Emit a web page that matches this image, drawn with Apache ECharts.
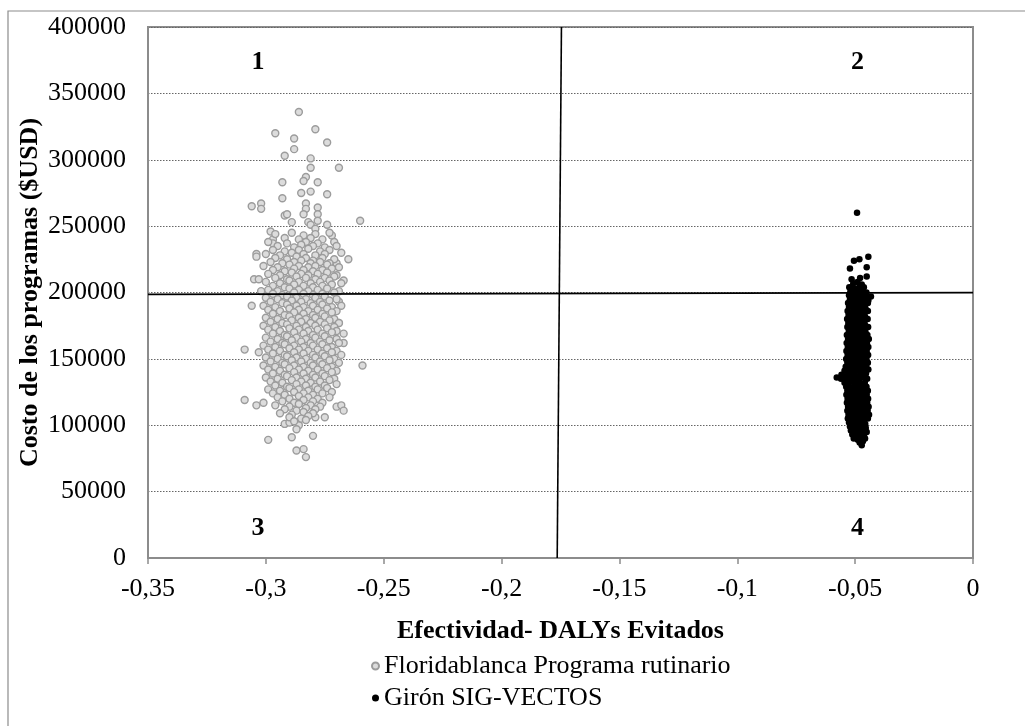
<!DOCTYPE html>
<html>
<head>
<meta charset="utf-8">
<style>
  html, body { margin: 0; padding: 0; background: #fff; }
  #chart { width: 1025px; height: 726px; }
</style>
<script src="https://cdn.jsdelivr.net/npm/echarts@6/dist/echarts.min.js"></script>
</head>
<body>
<div id="chart"></div>
<script>
    var fontFam = '"Liberation Serif", "Times New Roman", serif';
    var seriesNames = ['Floridablanca Programa rutinario', 'Girón SIG-VECTOS'];
    var xTicks = { min: -0.35, max: 0, interval: 0.05 };
    var yTicks = { min: 0, max: 400000, interval: 50000 };
    var quadrantNames = ['1', '2', '3', '4'];
    var quadrantPos = [[-0.3033, 373600], [-0.0490, 373600], [-0.3033, 22600], [-0.0490, 22600]];
    // lineas de cuadrantes (algo inclinadas en el original)
    var verticalCut = [[-0.1764, 0], [-0.1746, 400000]];
    var horizontalCut = [[-0.35, 198600], [0, 199900]];

    // [efectividad, costo en miles de USD]
    var floridablanca = [
        [-0.286,336],[-0.296,320],[-0.279,323],[-0.288,316],[-0.274,313],[-0.288,308],[-0.292,303],[-0.281,301],
        [-0.281,294],[-0.269,294],[-0.293,283],[-0.283,287],[-0.284,284],[-0.278,283],[-0.285,275],[-0.281,276],
        [-0.274,274],[-0.293,271],[-0.306,265],[-0.302,267],[-0.302,263],[-0.283,267],[-0.283,263],[-0.278,264],
        [-0.292,258],[-0.291,259],[-0.284,259],[-0.278,259],[-0.278,254],[-0.260,254],[-0.289,253],[-0.282,253],
        [-0.281,251],[-0.274,251],[-0.279,248],[-0.298,246],[-0.272,243],[-0.297,240],[-0.297,237],[-0.265,225],
        [-0.304,229],[-0.304,227],[-0.305,210],[-0.303,210],[-0.302,201],[-0.267,209],[-0.270,222],
        [-0.306,190],[-0.309,157],[-0.303,155],[-0.259,145],[-0.309,119],[-0.304,115],[-0.301,117],[-0.270,114],
        [-0.268,115],[-0.267,111],[-0.299,89],[-0.289,91],[-0.280,92],[-0.287,81],[-0.284,82],[-0.283,76],
        [-0.267,169],[-0.267,162],[-0.269,177],[-0.269,193],[-0.275,106],[-0.279,106],[-0.286,100],[-0.287,97],
        [-0.292,101],[-0.290,102],
        [-0.296,244],[-0.289,245],[-0.284,243],[-0.279,244],[-0.273,245],
        [-0.292,241],[-0.286,240],[-0.281,241],[-0.276,240],
        [-0.299,238],[-0.291,237],[-0.283,238],[-0.278,237],[-0.271,238],
        [-0.295,235],[-0.288,234],[-0.285,236],[-0.280,235],[-0.275,234],[-0.270,235],
        [-0.297,232],[-0.292,231],[-0.286,232],[-0.282,233],[-0.277,231],[-0.273,232],
        [-0.300,229],[-0.294,228],[-0.289,230],[-0.284,229],[-0.279,228],[-0.275,229],[-0.268,230],
        [-0.296,226],[-0.291,225],[-0.287,227],[-0.283,226],[-0.280,224],[-0.276,226],[-0.271,225],
        [-0.298,223],[-0.293,222],[-0.288,223],[-0.285,224],[-0.281,222],[-0.277,223],[-0.273,222],
        [-0.301,220],[-0.295,219],[-0.290,221],[-0.286,220],[-0.282,219],[-0.279,220],[-0.274,221],[-0.269,219],
        [-0.297,217],[-0.292,216],[-0.288,218],[-0.284,217],[-0.280,216],[-0.276,217],[-0.272,218],
        [-0.299,214],[-0.294,213],[-0.289,215],[-0.285,214],[-0.282,213],[-0.278,214],[-0.274,215],[-0.270,213],
        [-0.296,211],[-0.291,210],[-0.287,212],[-0.283,211],[-0.279,210],[-0.275,211],[-0.271,212],
        [-0.300,208],[-0.294,207],[-0.290,209],[-0.286,208],[-0.281,207],[-0.277,208],[-0.273,209],[-0.268,207],
        [-0.297,205],[-0.292,204],[-0.288,206],[-0.284,205],[-0.280,204],[-0.276,205],[-0.272,206],
        [-0.299,202],[-0.295,201],[-0.290,203],[-0.286,202],[-0.282,201],[-0.278,202],[-0.274,203],[-0.269,201],
        [-0.297,199],[-0.293,198],[-0.288,200],[-0.284,199],[-0.280,198],[-0.276,199],[-0.271,200],
        [-0.300,196],[-0.295,195],[-0.291,197],[-0.287,196],[-0.283,195],[-0.279,196],[-0.275,197],[-0.270,195],
        [-0.298,193],[-0.293,192],[-0.289,194],[-0.285,193],[-0.281,192],[-0.277,193],[-0.273,194],
        [-0.301,190],[-0.296,189],[-0.291,191],[-0.287,190],[-0.284,189],[-0.280,190],[-0.276,191],[-0.272,189],[-0.268,190],
        [-0.299,187],[-0.294,186],[-0.290,188],[-0.286,187],[-0.282,186],[-0.278,187],[-0.274,188],[-0.270,186],
        [-0.297,184],[-0.292,183],[-0.288,185],[-0.284,184],[-0.280,183],[-0.276,184],[-0.272,185],
        [-0.300,181],[-0.295,180],[-0.290,182],[-0.286,181],[-0.283,180],[-0.279,181],[-0.275,182],[-0.271,180],
        [-0.298,178],[-0.293,177],[-0.289,179],[-0.285,178],[-0.281,177],[-0.277,178],[-0.273,179],[-0.269,177],
        [-0.301,175],[-0.296,174],[-0.291,176],[-0.287,175],[-0.283,174],[-0.279,175],[-0.275,176],[-0.271,174],
        [-0.299,172],[-0.294,171],[-0.290,173],[-0.286,172],[-0.282,171],[-0.278,172],[-0.274,173],[-0.270,171],
        [-0.297,169],[-0.292,168],[-0.288,170],[-0.284,169],[-0.280,168],[-0.276,169],[-0.272,170],
        [-0.300,166],[-0.295,165],[-0.291,167],[-0.287,166],[-0.283,165],[-0.279,166],[-0.275,167],[-0.270,165],
        [-0.298,163],[-0.293,162],[-0.289,164],[-0.285,163],[-0.281,162],[-0.277,163],[-0.273,164],[-0.269,162],
        [-0.301,160],[-0.296,159],[-0.292,161],[-0.288,160],[-0.284,159],[-0.280,160],[-0.276,161],[-0.272,159],
        [-0.299,157],[-0.294,156],[-0.290,158],[-0.286,157],[-0.282,156],[-0.278,157],[-0.274,158],[-0.270,156],
        [-0.297,154],[-0.292,153],[-0.288,155],[-0.284,154],[-0.280,153],[-0.276,154],[-0.272,155],[-0.268,153],
        [-0.300,151],[-0.295,150],[-0.291,152],[-0.287,151],[-0.283,150],[-0.279,151],[-0.275,152],[-0.271,150],
        [-0.298,148],[-0.293,147],[-0.289,149],[-0.285,148],[-0.281,147],[-0.277,148],[-0.273,149],[-0.269,147],
        [-0.301,145],[-0.296,144],[-0.292,146],[-0.288,145],[-0.284,144],[-0.280,145],[-0.276,146],[-0.272,144],
        [-0.299,142],[-0.294,141],[-0.290,143],[-0.286,142],[-0.282,141],[-0.278,142],[-0.274,143],[-0.270,141],
        [-0.297,139],[-0.292,138],[-0.288,140],[-0.284,139],[-0.280,138],[-0.276,139],[-0.272,140],
        [-0.300,136],[-0.295,135],[-0.291,137],[-0.287,136],[-0.283,135],[-0.279,136],[-0.275,137],[-0.271,135],
        [-0.298,133],[-0.293,132],[-0.289,134],[-0.285,133],[-0.281,132],[-0.277,133],[-0.273,134],
        [-0.296,130],[-0.291,129],[-0.287,131],[-0.283,130],[-0.279,129],[-0.275,130],[-0.270,131],
        [-0.299,127],[-0.294,126],[-0.290,128],[-0.286,127],[-0.282,126],[-0.278,127],[-0.274,128],
        [-0.297,124],[-0.292,123],[-0.288,125],[-0.284,124],[-0.280,123],[-0.276,124],[-0.272,125],
        [-0.295,121],[-0.290,120],[-0.286,122],[-0.282,121],[-0.278,120],[-0.273,121],
        [-0.293,118],[-0.288,117],[-0.284,119],[-0.280,118],[-0.276,117],
        [-0.296,115],[-0.290,114],[-0.286,116],[-0.281,115],[-0.277,114],
        [-0.292,112],[-0.287,111],[-0.283,113],[-0.279,112],
        [-0.294,109],[-0.289,108],[-0.284,110],[-0.280,109],
        [-0.290,106],[-0.285,105],[-0.282,107],
        [-0.288,103],[-0.283,104]
    ];

    // [efectividad, costo en miles de USD]
    var giron = [
        [-0.0492,260],[-0.0444,227],[-0.0505,224],[-0.0482,225],[-0.0522,218],[-0.0451,219],[-0.0451,212],
        [-0.0479,211],[-0.0515,210],[-0.0525,204],[-0.0433,197],[-0.0444,194],
        [-0.0508,207],[-0.0490,208],[-0.0472,206],
        [-0.0515,204],[-0.0498,203],[-0.0480,205],[-0.0463,204],
        [-0.0520,201],[-0.0503,200],[-0.0486,202],[-0.0468,201],[-0.0452,200],
        [-0.0526,198],[-0.0509,197],[-0.0491,199],[-0.0474,198],[-0.0457,197],
        [-0.0522,195],[-0.0505,194],[-0.0488,196],[-0.0471,195],[-0.0453,194],
        [-0.0530,192],[-0.0512,191],[-0.0495,193],[-0.0478,192],[-0.0461,191],[-0.0446,192],
        [-0.0526,189],[-0.0508,188],[-0.0491,190],[-0.0473,189],[-0.0456,188],
        [-0.0532,186],[-0.0514,185],[-0.0497,187],[-0.0480,186],[-0.0463,185],[-0.0446,186],
        [-0.0528,183],[-0.0510,182],[-0.0492,184],[-0.0475,183],[-0.0458,182],
        [-0.0534,180],[-0.0516,179],[-0.0499,181],[-0.0482,180],[-0.0465,179],[-0.0447,180],
        [-0.0529,177],[-0.0511,176],[-0.0494,178],[-0.0477,177],[-0.0459,176],
        [-0.0533,174],[-0.0515,173],[-0.0498,175],[-0.0481,174],[-0.0463,173],[-0.0445,174],
        [-0.0527,171],[-0.0509,170],[-0.0492,172],[-0.0474,171],[-0.0456,170],
        [-0.0535,168],[-0.0517,167],[-0.0500,169],[-0.0483,168],[-0.0466,167],[-0.0448,168],
        [-0.0530,165],[-0.0512,164],[-0.0494,166],[-0.0477,165],[-0.0459,164],[-0.0442,165],
        [-0.0536,162],[-0.0518,161],[-0.0501,163],[-0.0484,162],[-0.0467,161],[-0.0450,162],
        [-0.0531,159],[-0.0513,158],[-0.0496,160],[-0.0479,159],[-0.0461,158],[-0.0444,159],
        [-0.0537,156],[-0.0519,155],[-0.0502,157],[-0.0485,156],[-0.0468,155],[-0.0451,156],
        [-0.0532,153],[-0.0514,152],[-0.0497,154],[-0.0480,153],[-0.0462,152],[-0.0445,153],
        [-0.0538,150],[-0.0520,149],[-0.0503,151],[-0.0486,150],[-0.0469,149],[-0.0452,150],
        [-0.0533,147],[-0.0515,146],[-0.0498,148],[-0.0481,147],[-0.0463,146],[-0.0446,147],
        [-0.0540,144],[-0.0521,143],[-0.0504,145],[-0.0487,144],[-0.0470,143],[-0.0453,144],
        [-0.0545,141],[-0.0527,140],[-0.0509,142],[-0.0492,141],[-0.0475,140],[-0.0458,141],[-0.0444,142],
        [-0.0558,138],[-0.0540,137],[-0.0522,139],[-0.0505,138],[-0.0488,137],[-0.0471,138],[-0.0454,139],
        [-0.0578,136],[-0.0560,135],[-0.0535,134],[-0.0517,136],[-0.0500,135],[-0.0483,134],[-0.0466,136],[-0.0449,135],
        [-0.0545,132],[-0.0527,131],[-0.0510,133],[-0.0493,132],[-0.0476,131],[-0.0459,132],
        [-0.0538,129],[-0.0520,128],[-0.0503,130],[-0.0486,129],[-0.0469,128],[-0.0452,129],
        [-0.0533,126],[-0.0515,125],[-0.0498,127],[-0.0481,126],[-0.0463,125],[-0.0446,126],
        [-0.0537,123],[-0.0519,122],[-0.0502,124],[-0.0485,123],[-0.0468,122],[-0.0451,123],
        [-0.0532,120],[-0.0514,119],[-0.0497,121],[-0.0480,120],[-0.0462,119],[-0.0445,120],
        [-0.0535,117],[-0.0517,116],[-0.0500,118],[-0.0483,117],[-0.0466,116],[-0.0449,117],
        [-0.0530,114],[-0.0512,113],[-0.0495,115],[-0.0478,114],[-0.0460,113],[-0.0443,114],
        [-0.0533,111],[-0.0515,110],[-0.0498,112],[-0.0481,111],[-0.0464,110],[-0.0447,111],
        [-0.0528,108],[-0.0510,107],[-0.0493,109],[-0.0476,108],[-0.0458,107],[-0.0441,108],
        [-0.0531,105],[-0.0513,104],[-0.0496,106],[-0.0479,105],[-0.0462,104],[-0.0446,105],
        [-0.0526,102],[-0.0508,101],[-0.0491,103],[-0.0474,102],[-0.0457,101],
        [-0.0522,99],[-0.0505,98],[-0.0488,100],[-0.0471,99],[-0.0455,98],
        [-0.0518,96],[-0.0500,95],[-0.0483,97],[-0.0466,96],[-0.0451,95],
        [-0.0512,93],[-0.0495,92],[-0.0478,94],[-0.0462,93],
        [-0.0506,90],[-0.0489,89],[-0.0473,91],[-0.0458,90],
        [-0.0481,87],[-0.0467,88],[-0.0472,85]
    ];

    function $each(arr, fn) { for (var i = 0; i < arr.length; i++) fn(arr[i], i); }
    function toPoints(list) {
        var out = [];
        $each(list, function (p) { out.push([p[0], p[1] * 1000]); });
        return out;
    }

    var quadLabels = [];
    $each(quadrantNames, function (n, i) {
        quadLabels.push({ name: n, coord: quadrantPos[i], value: n });
    });

    var chart = echarts.init(document.getElementById('chart'));
    chart.setOption({
        animation: false,
        textStyle: { fontFamily: fontFam },
        graphic: [{
            type: 'rect', silent: true, z: -1,
            shape: { x: 8, y: 11, width: 1100, height: 1000 },
            style: { fill: 'none', stroke: '#8c8c8c', lineWidth: 1.2 }
        }],
        grid: {
            left: 148, right: 52, top: 27, bottom: 168,
            show: true, borderColor: '#8c8c8c', borderWidth: 2, backgroundColor: 'transparent'
        },
        legend: {
            data: seriesNames,
            orient: 'vertical',
            left: 366, top: 647,
            itemWidth: 7, itemHeight: 7, itemGap: 4,
            textStyle: { fontFamily: fontFam, fontSize: 26, lineHeight: 28, color: '#000' }
        },
        xAxis: {
            type: 'value',
            min: xTicks.min, max: xTicks.max, interval: xTicks.interval,
            name: 'Efectividad- DALYs Evitados',
            nameLocation: 'middle', nameGap: 60,
            nameTextStyle: { fontFamily: fontFam, fontSize: 26, fontWeight: 'bold', color: '#000' },
            axisLine: { onZero: false, lineStyle: { color: '#8c8c8c', width: 2 } },
            axisTick: { show: true, length: 6, lineStyle: { color: '#8c8c8c', width: 1.5 } },
            axisLabel: {
                margin: 18, fontFamily: fontFam, fontSize: 26, color: '#000',
                formatter: function (v) { return String(Math.round(v * 100) / 100).replace('.', ','); }
            },
            splitLine: { show: false }
        },
        yAxis: {
            type: 'value',
            min: yTicks.min, max: yTicks.max, interval: yTicks.interval,
            name: 'Costo de los programas ($USD)',
            nameLocation: 'middle', nameGap: 105, nameRotate: 90,
            nameMoveOverlap: false,
            nameTextStyle: { fontFamily: fontFam, fontSize: 26, fontWeight: 'bold', color: '#000' },
            axisLine: { show: true, onZero: false, lineStyle: { color: '#8c8c8c', width: 2 } },
            axisTick: { show: false },
            axisLabel: {
                margin: 22, fontFamily: fontFam, fontSize: 26, color: '#000',
                formatter: function (v) { return String(v); }
            },
            splitLine: { show: true, lineStyle: { color: '#666', width: 1, type: [1.5, 1.5] } }
        },
        series: [
            {
                name: seriesNames[0],
                type: 'scatter',
                symbol: 'circle',
                symbolSize: 7,
                itemStyle: { color: '#dcdcdc', borderColor: '#9c9c9c', borderWidth: 1.4, opacity: 1 },
                data: toPoints(floridablanca),
                markPoint: {
                    symbol: 'circle', symbolSize: 0, silent: true,
                    label: {
                        show: true, position: 'inside', formatter: '{b}',
                        fontFamily: fontFam, fontSize: 26, fontWeight: 'bold', color: '#000'
                    },
                    data: quadLabels
                }
            },
            {
                name: seriesNames[1],
                type: 'scatter',
                symbol: 'circle',
                symbolSize: 6.5,
                itemStyle: { color: '#000', opacity: 1 },
                data: toPoints(giron)
            },
            {
                name: 'cuadrantes',
                type: 'scatter',
                data: [],
                markLine: {
                    silent: true, symbol: 'none', label: { show: false },
                    lineStyle: { color: '#000', width: 1.6, type: 'solid' },
                    data: [
                        [{ coord: verticalCut[0] }, { coord: verticalCut[1] }],
                        [{ coord: horizontalCut[0] }, { coord: horizontalCut[1] }]
                    ]
                }
            }
        ]
    });
</script>
</body>
</html>
